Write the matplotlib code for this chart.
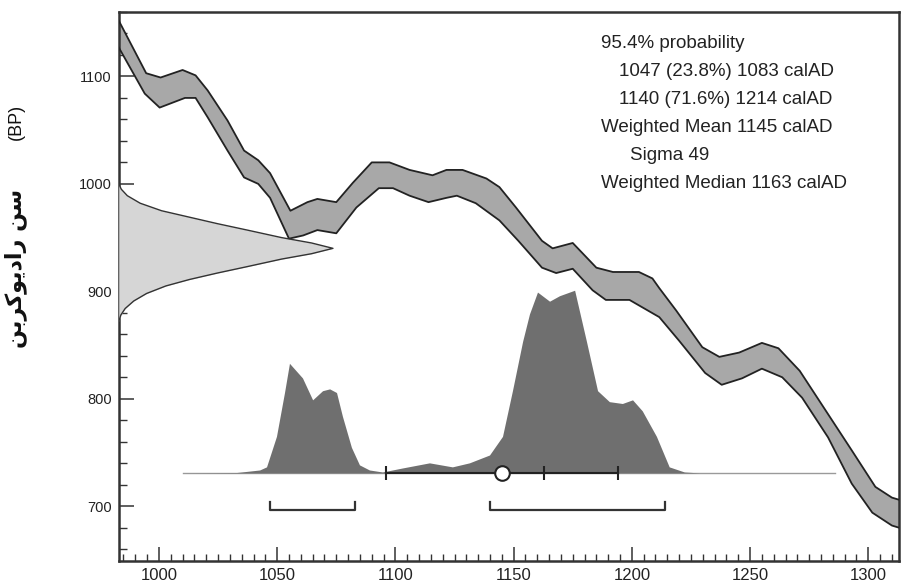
import numpy as np
import matplotlib.pyplot as plt
from matplotlib.ticker import MultipleLocator

# ========================= data ==============================================

# calibration curve band (calAD, BP)
curve_upper_x = [983, 994.6, 1000.7, 1010, 1015.5, 1020.6, 1029, 1036, 1042, 1047,
                 1055.6, 1062.8, 1067, 1075, 1082, 1090, 1097.5, 1106, 1115.7, 1121.6,
                 1128.4, 1138.5, 1144, 1151, 1162, 1166.5, 1175, 1185, 1192, 1203,
                 1208.7, 1211.6, 1218.8, 1229.8, 1237, 1245.4, 1255, 1262, 1271, 1282,
                 1293, 1303, 1310, 1313]
curve_upper_bp = [1152, 1103, 1099, 1106, 1101, 1087, 1059, 1031, 1022, 1010,
                  975, 983, 986, 983, 1001, 1020, 1020, 1013, 1008, 1013,
                  1013, 1005, 997, 978, 947, 940, 945, 922, 918, 918,
                  912, 903, 882, 848, 839, 843, 852, 847, 826, 789,
                  752, 718, 708, 706]

curve_lower_x = [983, 994, 1000.3, 1011, 1015.5, 1020.6, 1029, 1036, 1042, 1047,
                 1055, 1061, 1067, 1075, 1083.5, 1093, 1099, 1106, 1114, 1121.6,
                 1126, 1134, 1144, 1152, 1162, 1168, 1175, 1183.4, 1189, 1199,
                 1211.6, 1220, 1231, 1238, 1246.6, 1255, 1263.6, 1272, 1283, 1293,
                 1301.7, 1310, 1313]
curve_lower_bp = [1127, 1084, 1071, 1080, 1080, 1062, 1031, 1006, 1000, 987,
                  949, 952, 957, 954, 978, 996, 996, 989, 983, 987,
                  989, 982, 966, 947, 922, 917, 921, 901, 892, 892,
                  876, 854, 824, 813, 819, 828, 820, 801, 764, 721,
                  694, 682, 680]

# radiocarbon measurement (BP) and relative probability
rc_bp = [872, 878, 884, 891, 898, 905, 911, 917, 923, 930, 935, 940,
         945, 950, 957, 963, 969, 975, 982, 989, 995, 1000]
rc_prob = [0.0, 0.01, 0.03, 0.07, 0.13, 0.22, 0.33, 0.46, 0.6, 0.76, 0.9, 1.0,
           0.9, 0.76, 0.6, 0.46, 0.33, 0.2, 0.1, 0.04, 0.012, 0.0]

# calibrated date (calAD) and relative probability
cal_x = [1010, 1032.8, 1042.6, 1045.5, 1049.7, 1053.1, 1055.2, 1060.7, 1065, 1069.2,
         1072.2, 1075.1, 1077.6, 1081.4, 1084.8, 1089, 1094.5, 1103, 1114.4, 1124.1,
         1131.3, 1139.8, 1145.3, 1149.5, 1153.8, 1156.7, 1160.1, 1165.2, 1169.4, 1175.8,
         1180.8, 1185.5, 1190.5, 1196, 1200.3, 1204.4, 1210.4, 1215.8, 1222.2, 1228.5, 1286]
cal_prob = [0, 0.002, 0.016, 0.033, 0.2, 0.44, 0.6, 0.52, 0.4, 0.45,
            0.46, 0.44, 0.31, 0.14, 0.044, 0.016, 0.005, 0.027, 0.055, 0.033,
            0.055, 0.098, 0.2, 0.45, 0.72, 0.87, 0.99, 0.94, 0.97, 1.0,
            0.72, 0.45, 0.39, 0.38, 0.4, 0.34, 0.2, 0.033, 0.005, 0, 0]

ranges_95 = [(1047, 1083), (1140, 1214)]
weighted_mean = 1145
sigma = 49
weighted_median = 1163

info_lines = ["95.4% probability",
              "1047 (23.8%) 1083 calAD",
              "1140 (71.6%) 1214 calAD",
              "Weighted Mean 1145 calAD",
              "Sigma 49",
              "Weighted Median 1163 calAD"]
info_indent = [0, 18, 18, 0, 29, 0]

# ========================= plot ==============================================

plt.rcParams['font.family'] = ['Liberation Sans', 'DejaVu Sans']
fig = plt.figure(figsize=(9.03, 5.87), dpi=100)
ax = fig.add_axes([0.1315, 0.0443, 0.8641, 0.9353])

xmin, xmax = 983, 1313
ymin, ymax = 649, 1160

# calibration band
band_x = list(curve_upper_x) + list(curve_lower_x[::-1])
band_y = list(curve_upper_bp) + list(curve_lower_bp[::-1])
ax.fill(band_x, band_y, color='#a8a8a8', zorder=2, lw=0)
ax.plot(curve_upper_x, curve_upper_bp, color='#222222', lw=1.3, zorder=3)
ax.plot(curve_lower_x, curve_lower_bp, color='#222222', lw=1.3, zorder=3)

# radiocarbon date on y axis
rc_scale = 90.6
rc_x = xmin + np.array(rc_prob) * rc_scale
ax.fill_betweenx(rc_bp, xmin, rc_x, color='#d6d6d6', zorder=4, lw=0)
ax.plot(rc_x, rc_bp, color='#333333', lw=1.0, zorder=5)

# calibrated distribution
base_bp = 731
cal_scale = 170
ax.plot([1010, 1286], [base_bp, base_bp], color='#9a9a9a', lw=1.0, zorder=5)
ax.fill_between(cal_x, base_bp, base_bp + np.array(cal_prob) * cal_scale,
                color='#6f6f6f', lw=0, zorder=6)

# mean +- sigma and median
ax.plot([weighted_mean - sigma, weighted_mean + sigma], [base_bp, base_bp],
        color='#222222', lw=1.5, zorder=7)
ax.plot([weighted_mean - sigma, weighted_median, weighted_mean + sigma], [base_bp] * 3,
        ls='none', marker='|', ms=10, mew=1.5, color='#222222', zorder=7)
ax.plot([weighted_mean], [base_bp], ls='none', marker='o', ms=10.5,
        mfc='white', mec='#222222', mew=1.5, zorder=8)

# 95.4% range brackets
for lo, hi in ranges_95:
    ax.plot([lo, lo, hi, hi], [703.5, 696.5, 696.5, 703.5], color='#333333',
            lw=1.6, zorder=7)

# axes
ax.set_xlim(xmin, xmax)
ax.set_ylim(ymin, ymax)
ax.xaxis.set_major_locator(MultipleLocator(50))
ax.xaxis.set_minor_locator(MultipleLocator(5))
ax.yaxis.set_major_locator(MultipleLocator(100))
ax.yaxis.set_minor_locator(MultipleLocator(20))
ax.tick_params(axis='both', which='both', direction='in', color='#333333',
               top=False, right=False)
ax.tick_params(axis='x', which='major', length=10, width=1.1, pad=5,
               labelsize=12, labelcolor='#222222')
ax.tick_params(axis='x', which='minor', length=5, width=1.0)
ax.tick_params(axis='y', which='major', length=11, width=1.1, pad=5,
               labelsize=10.5, labelcolor='#222222')
ax.tick_params(axis='y', which='minor', length=5.5, width=1.0)
for s in ax.spines.values():
    s.set_linewidth(1.8)
    s.set_color('#333333')

# info text
W, H = 903.0, 587.0
line_y = [43, 72, 100, 128, 156, 183]
for txt, ind, py in zip(info_lines, info_indent, line_y):
    fig.text((601 + ind) / W, 1 - py / H, txt, fontsize=13.5, color='#222222',
             va='center', ha='left')

# y label (Persian, shaped with presentation forms, drawn left to right)
fa_label = "\uFEE6\uFE91\uFEAE\uFEDB\uFEEE\uFEF3\uFEA9\uFE8D\uFEAD \uFEE6\uFEB3"
fig.text(16 / W, 1 - 268 / H, fa_label, rotation=90, fontsize=16,
         fontweight='bold', family=['DejaVu Sans'], va='center', ha='center',
         color='#111111')
fig.text(16 / W, 1 - 122 / H, "(BP)", rotation=90, fontsize=13,
         va='center', ha='center', color='#111111')

plt.savefig('out.png', dpi=100)
